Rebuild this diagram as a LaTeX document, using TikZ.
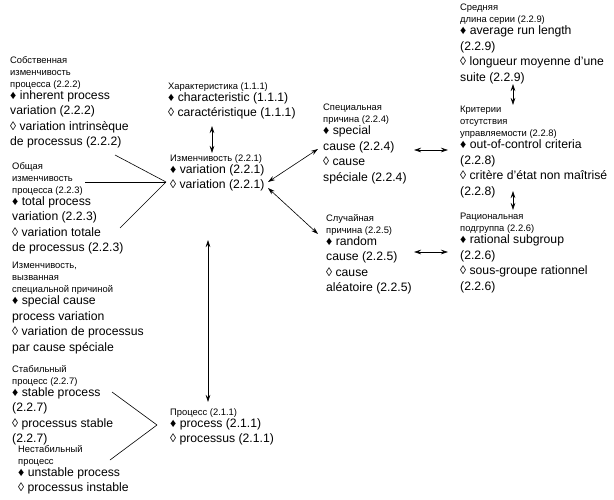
\documentclass[tikz,border=0pt]{standalone}
\usepackage{fontspec}
\setmainfont{Liberation Sans}
\usetikzlibrary{arrows.meta}
\newcommand{\ru}{\fontsize{9.4}{13}\selectfont}
\newcommand{\en}{\fontsize{12.2}{16.5}\selectfont}
\newcommand{\nl}{\\[3.5pt]}
\begin{document}
\begin{tikzpicture}[x=1pt,y=-1pt,
  blk/.style={anchor=north west,inner sep=0pt,align=left},
  ln/.style={line width=0.6pt},
  dar/.style={line width=0.6pt,{Stealth[length=7pt,width=4.5pt]}-{Stealth[length=7pt,width=4.5pt]}}]
\useasboundingbox (0,0) rectangle (614,500);
\node[blk] (sob) at (10,56) {\ru Собственная\\ \ru изменчивость\\ \ru процесса (2.2.2)\\ \en ♦ inherent process\nl \en variation (2.2.2)\nl \en ◊ variation intrinsèque\nl \en de processus (2.2.2)};
\node[blk] (obs) at (12,162) {\ru Общая\\ \ru изменчивость\\ \ru процесса (2.2.3)\\ \en ♦ total process\nl \en variation (2.2.3)\nl \en ◊ variation totale\nl \en de processus (2.2.3)};
\node[blk] (spv) at (12,262) {\ru Изменчивость,\\ \ru вызванная\\ \ru специальной причиной\\ \en ♦ special cause\nl \en process variation\nl \en ◊ variation de processus\nl \en par cause spéciale};
\node[blk] (stb) at (12,365) {\ru Стабильный\\ \ru процесс (2.2.7)\\ \en ♦ stable process\nl \en (2.2.7)\nl \en ◊ processus stable\nl \en (2.2.7)};
\node[blk] (nst) at (18,445) {\ru Нестабильный\\ \ru процесс\\ \en ♦ unstable process\nl \en ◊ processus instable};
\node[blk] (har) at (168,82) {\ru Характеристика (1.1.1)\\ \en ♦ characteristic (1.1.1)\nl \en ◊ caractéristique (1.1.1)};
\node[blk] (izm) at (170,154) {\ru Изменчивость (2.2.1)\\ \en ♦ variation (2.2.1)\nl \en ◊ variation (2.2.1)};
\node[blk] (prc) at (170,408) {\ru Процесс (2.1.1)\\ \en ♦ process (2.1.1)\nl \en ◊ processus (2.1.1)};
\node[blk] (spc) at (323,104) {\ru Специальная\\ \ru причина (2.2.4)\\ \en ♦ special\nl \en cause (2.2.4)\nl \en ◊ cause\nl \en spéciale (2.2.4)};
\node[blk] (sly) at (326,214) {\ru Случайная\\ \ru причина (2.2.5)\\ \en ♦ random\nl \en cause (2.2.5)\nl \en ◊ cause\nl \en aléatoire (2.2.5)};
\node[blk] (sre) at (460,4) {\ru Средняя\\ \ru длина серии (2.2.9)\\ \en ♦ average run length\nl \en (2.2.9)\nl \en ◊ longueur moyenne d'une\nl \en suite (2.2.9)};
\node[blk] (krt) at (460,106) {\ru Критерии\\ \ru отсутствия\\ \ru управляемости (2.2.8)\\ \en ♦ out-of-control criteria\nl \en (2.2.8)\nl \en ◊ critère d'état non maîtrisé\nl \en (2.2.8)};
\node[blk] (rac) at (460,213) {\ru Рациональная\\ \ru подгруппа (2.2.6)\\ \en ♦ rational subgroup\nl \en (2.2.6)\nl \en ◊ sous-groupe rationnel\nl \en (2.2.6)};
% connector end points
\coordinate (jv) at (166,182);
\coordinate (jp) at (157,425);
\coordinate (a1) at (115,155); \coordinate (a2) at (85,182); \coordinate (a3) at (120,228);
\coordinate (b1) at (112,392); \coordinate (b2) at (110,460);
\coordinate (c1) at (212,126); \coordinate (c2) at (212,153);
\coordinate (d1) at (208,240); \coordinate (d2) at (208,402);
\coordinate (e0) at (268,182); \coordinate (e1) at (318,149);
\coordinate (f0) at (268,188); \coordinate (f1) at (318,234);
\coordinate (g1) at (414,150); \coordinate (g2) at (448,150);
\coordinate (h1) at (414,252); \coordinate (h2) at (448,252);
\coordinate (i1) at (513,84); \coordinate (i2) at (513,105);
\coordinate (k1) at (513,191); \coordinate (k2) at (513,210);
\draw[ln] (a1) -- (jv);
\draw[ln] (a2) -- (jv);
\draw[ln] (a3) -- (jv);
\draw[ln] (b1) -- (jp);
\draw[ln] (b2) -- (jp);
\draw[dar] (c1) -- (c2);
\draw[dar] (d1) -- (d2);
\draw[dar] (e0) -- (e1);
\draw[dar] (f0) -- (f1);
\draw[dar] (g1) -- (g2);
\draw[dar] (h1) -- (h2);
\draw[dar] (i1) -- (i2);
\draw[dar] (k1) -- (k2);
\end{tikzpicture}
\end{document}
